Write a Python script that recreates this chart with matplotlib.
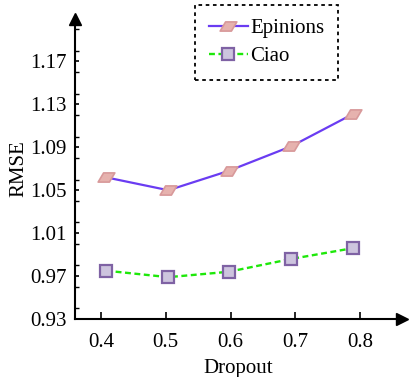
import numpy as np
import matplotlib.pyplot as plt
from matplotlib.path import Path
from matplotlib.ticker import MultipleLocator

plt.rcParams['font.family'] = ['Liberation Serif', 'DejaVu Serif']

# dropout values (points sit a bit off the tick marks in the original)
dropout = [0.408, 0.504, 0.597, 0.694, 0.789]
epinions = [1.062, 1.050, 1.068, 1.091, 1.121]
ciao = [0.975, 0.969, 0.974, 0.986, 0.996]
xticks = [0.4, 0.5, 0.6, 0.7, 0.8]
yticks = [0.93, 0.97, 1.01, 1.05, 1.09, 1.13, 1.17]

# skewed diamond marker for Epinions
para = Path([(-1.0, -0.55), (0.35, -0.55), (1.0, 0.55), (-0.35, 0.55), (-1.0, -0.55)],
            [Path.MOVETO, Path.LINETO, Path.LINETO, Path.LINETO, Path.CLOSEPOLY])

fs = 15

fig = plt.figure(figsize=(4.09, 3.77), dpi=100)
ax = fig.add_axes([75 / 409, 58 / 377, 327 / 409, 300 / 377])

ax.plot(dropout, epinions, color='#6a3cf2', lw=1.6, marker=para, ms=12,
        mfc='#e6b2ae', mec='#d8999a', mew=1.2, label='Epinions')
ax.plot(dropout, ciao, color='#1ee80a', lw=1.7, ls=(0, (2.5, 1.5)), marker='s', ms=8,
        mfc='#cdc4de', mec='#7f62a4', mew=1.6, label='Ciao')

ax.set_xlim(0.3598, 0.8649)
ax.set_ylim(0.93, 1.2096)
ax.set_xticks(xticks)
ax.set_yticks(yticks)
ax.yaxis.set_minor_locator(MultipleLocator(0.02))
ax.tick_params(axis='x', direction='in', length=5, width=1.2, labelsize=fs, pad=10)
ax.tick_params(axis='y', which='major', direction='in', length=3, width=1.2, labelsize=fs, pad=6)
ax.tick_params(axis='y', which='minor', direction='in', length=3, width=1.0)

for s in ['top', 'right']:
    ax.spines[s].set_visible(False)
for s in ['left', 'bottom']:
    ax.spines[s].set_linewidth(1.5)

# arrow heads on the axes
ax.plot(1, 0, '>k', ms=8, transform=ax.transAxes, clip_on=False)
ax.plot(0, 1, '^k', ms=8, transform=ax.transAxes, clip_on=False)

ax.set_xlabel('Dropout', fontsize=fs, labelpad=5)
ax.set_ylabel('RMSE', fontsize=fs, labelpad=1)

leg = ax.legend(loc='upper left', bbox_to_anchor=(195 / 409, 1 - 5 / 377),
                bbox_transform=fig.transFigure, fontsize=fs, fancybox=False,
                edgecolor='black', framealpha=1, borderpad=0.65, handlelength=1.9,
                handletextpad=0.1, labelspacing=0.4, borderaxespad=0)
leg.get_frame().set_linewidth(1.3)
leg.get_frame().set_linestyle((0, (2, 2)))

fig.savefig('out.png', dpi=100)
